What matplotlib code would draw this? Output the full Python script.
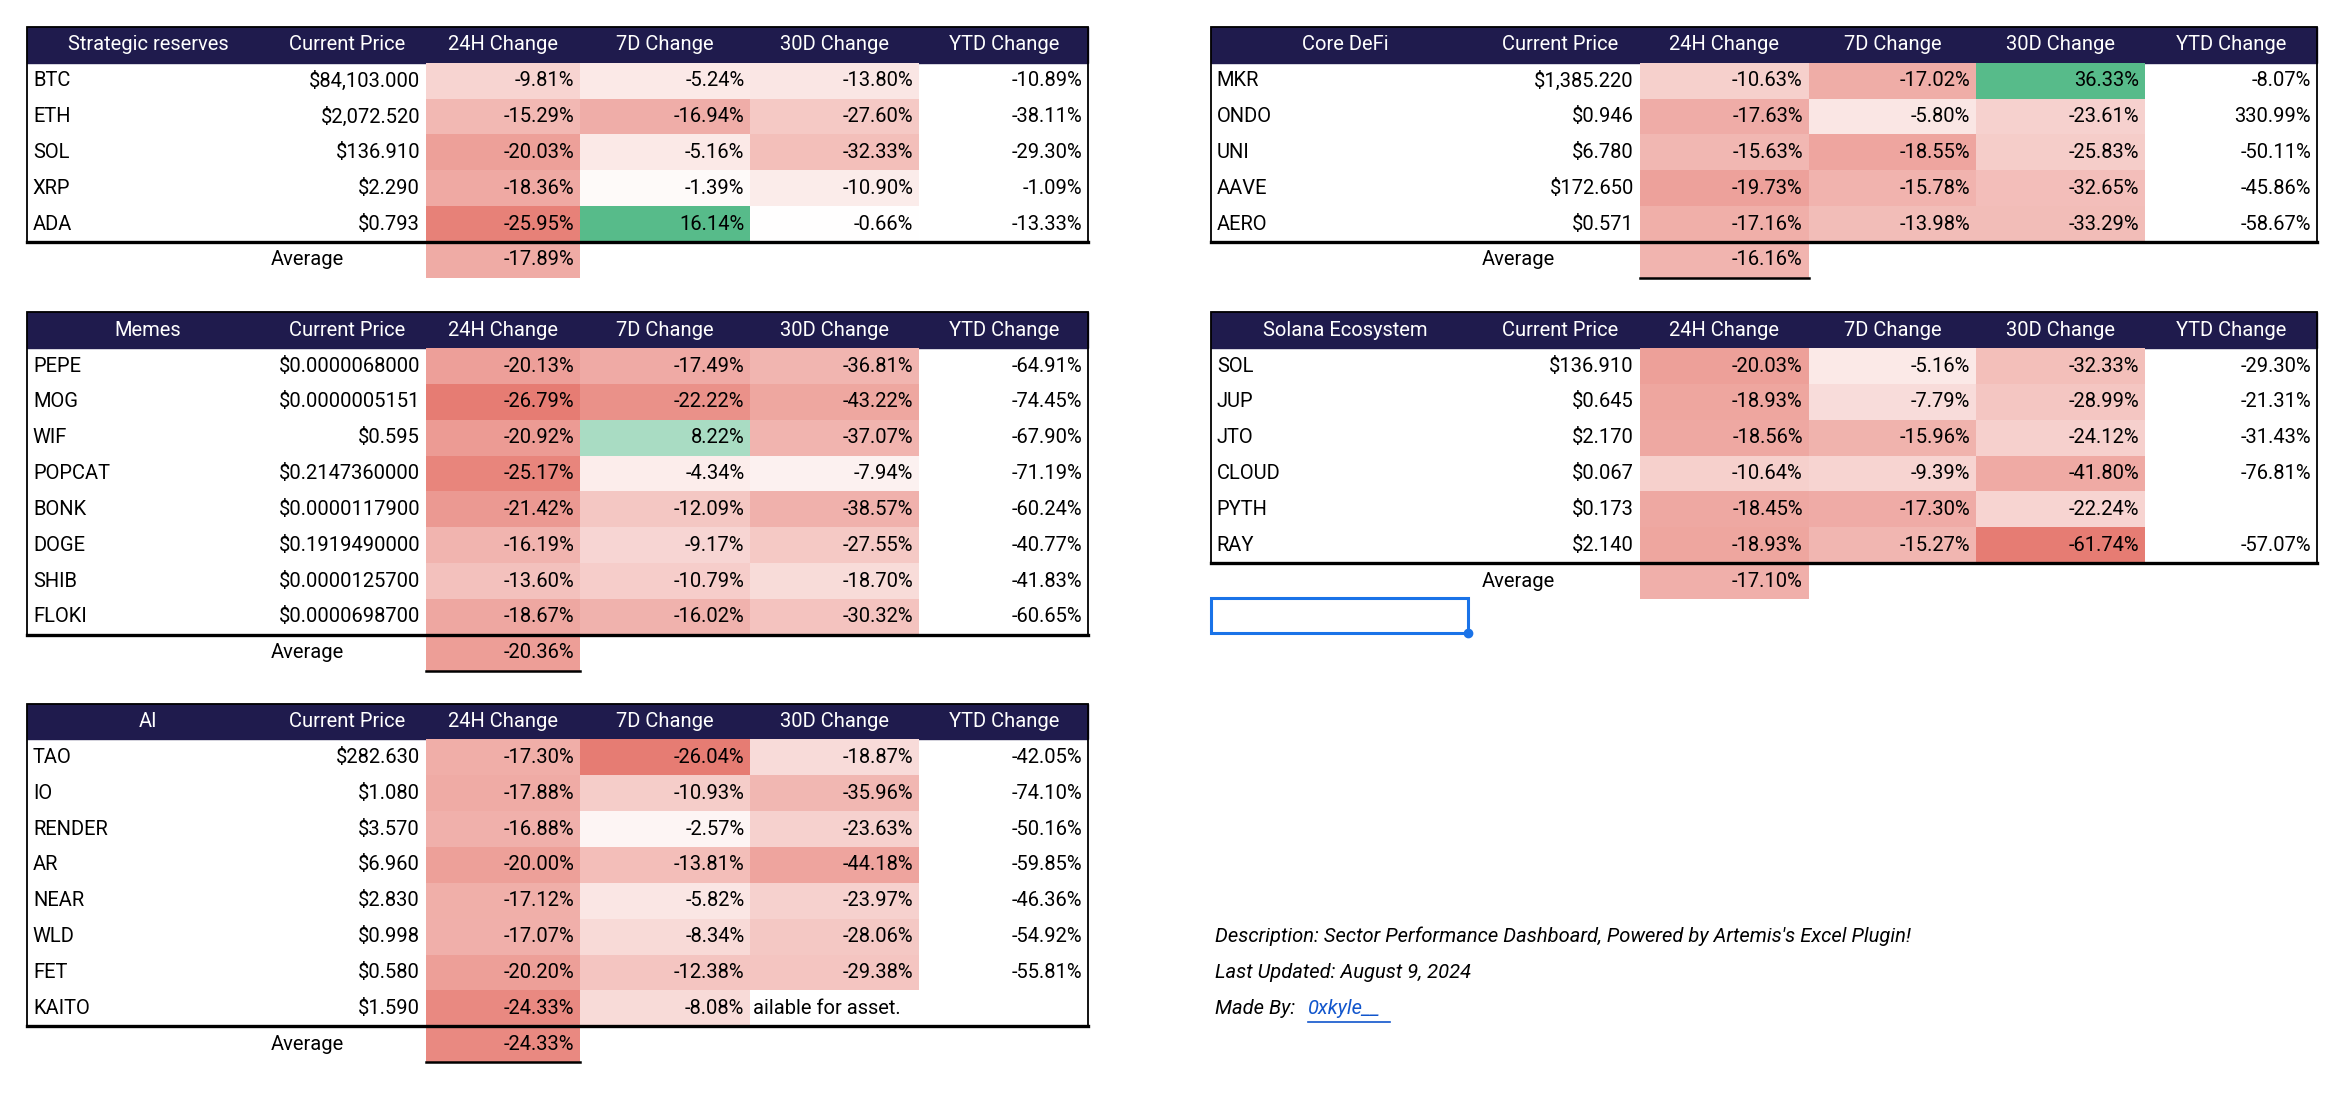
import matplotlib
matplotlib.use("Agg")
import matplotlib.pyplot as plt
from matplotlib.patches import Rectangle
import numpy as np

plt.rcParams['font.family'] = ['Roboto', 'DejaVu Sans']

columns = ["Current Price", "24H Change", "7D Change", "30D Change", "YTD Change"]

t1_title = "Strategic reserves"
t1_names = ["BTC", "ETH", "SOL", "XRP", "ADA"]
t1_price = ["$84,103.000", "$2,072.520", "$136.910", "$2.290", "$0.793"]
t1_24h = [-9.81, -15.29, -20.03, -18.36, -25.95]
t1_7d = [-5.24, -16.94, -5.16, -1.39, 16.14]
t1_30d = [-13.80, -27.60, -32.33, -10.90, -0.66]
t1_ytd = [-10.89, -38.11, -29.30, -1.09, -13.33]
t1_avg = -17.89

t2_title = "Memes"
t2_names = ["PEPE", "MOG", "WIF", "POPCAT", "BONK", "DOGE", "SHIB", "FLOKI"]
t2_price = ["$0.0000068000", "$0.0000005151", "$0.595", "$0.2147360000", "$0.0000117900",
            "$0.1919490000", "$0.0000125700", "$0.0000698700"]
t2_24h = [-20.13, -26.79, -20.92, -25.17, -21.42, -16.19, -13.60, -18.67]
t2_7d = [-17.49, -22.22, 8.22, -4.34, -12.09, -9.17, -10.79, -16.02]
t2_30d = [-36.81, -43.22, -37.07, -7.94, -38.57, -27.55, -18.70, -30.32]
t2_ytd = [-64.91, -74.45, -67.90, -71.19, -60.24, -40.77, -41.83, -60.65]
t2_avg = -20.36

t3_title = "AI"
t3_names = ["TAO", "IO", "RENDER", "AR", "NEAR", "WLD", "FET", "KAITO"]
t3_price = ["$282.630", "$1.080", "$3.570", "$6.960", "$2.830", "$0.998", "$0.580", "$1.590"]
t3_24h = [-17.30, -17.88, -16.88, -20.00, -17.12, -17.07, -20.20, -24.33]
t3_7d = [-26.04, -10.93, -2.57, -13.81, -5.82, -8.34, -12.38, -8.08]
t3_30d = [-18.87, -35.96, -23.63, -44.18, -23.97, -28.06, -29.38, None]
t3_ytd = [-42.05, -74.10, -50.16, -59.85, -46.36, -54.92, -55.81, None]
t3_avg = -24.33

t4_title = "Core DeFi"
t4_names = ["MKR", "ONDO", "UNI", "AAVE", "AERO"]
t4_price = ["$1,385.220", "$0.946", "$6.780", "$172.650", "$0.571"]
t4_24h = [-10.63, -17.63, -15.63, -19.73, -17.16]
t4_7d = [-17.02, -5.80, -18.55, -15.78, -13.98]
t4_30d = [36.33, -23.61, -25.83, -32.65, -33.29]
t4_ytd = [-8.07, 330.99, -50.11, -45.86, -58.67]
t4_avg = -16.16

t5_title = "Solana Ecosystem"
t5_names = ["SOL", "JUP", "JTO", "CLOUD", "PYTH", "RAY"]
t5_price = ["$136.910", "$0.645", "$2.170", "$0.067", "$0.173", "$2.140"]
t5_24h = [-20.03, -18.93, -18.56, -10.64, -18.45, -18.93]
t5_7d = [-5.16, -7.79, -15.96, -9.39, -17.30, -15.27]
t5_30d = [-32.33, -28.99, -24.12, -41.80, -22.24, -61.74]
t5_ytd = [-29.30, -21.31, -31.43, -76.81, None, -57.07]
t5_avg = -17.10

RED = np.array([0xe6, 0x7c, 0x73]) / 255
GREEN = np.array([0x57, 0xbb, 0x8a]) / 255
WHITE = np.ones(3)
NAVY = "#1f1b4d"

tables = [(t1_24h, t1_7d, t1_30d), (t2_24h, t2_7d, t2_30d), (t3_24h, t3_7d, t3_30d),
          (t4_24h, t4_7d, t4_30d), (t5_24h, t5_7d, t5_30d)]
GMIN = [min(v for t in tables for v in t[k] if v is not None) for k in range(3)]
GMAX = [max(v for t in tables for v in t[k] if v is not None) for k in range(3)]

def cell_color(v, k):
    if v is None:
        return None
    if v >= 0:
        t = min(1.0, v / GMAX[k]) if GMAX[k] > 0 else 1.0
        return tuple(WHITE + (GREEN - WHITE) * t)
    t = min(1.0, v / GMIN[k]) ** 1.1
    return tuple(WHITE + (RED - WHITE) * t)

W, H = 1568, 735
fig = plt.figure(figsize=(23.44, 10.98), dpi=100)
ax = fig.add_axes([0, 0, 1, 1])
ax.set_xlim(0, W)
ax.set_ylim(H, 0)
ax.axis("off")

FS = 14.5
LEFT_EDGES = [18, 180, 285, 388, 502, 615, 728]
RIGHT_EDGES = [810, 990, 1097, 1210, 1322, 1435, 1550]

def draw_table(edges, top, rh, title, names, price, c24, c7, c30, ytd, avg, avg_line, note=None):
    x0, x1 = edges[0], edges[-1]
    ax.add_patch(Rectangle((x0, top), x1 - x0, rh, facecolor=NAVY, edgecolor=NAVY, zorder=1))
    heads = [title] + columns
    for i, h in enumerate(heads):
        ax.text((edges[i] + edges[i + 1]) / 2, top + rh / 2, h, color="white",
                ha="center", va="center", fontsize=FS, zorder=3)
    n = len(names)
    cols = [c24, c7, c30]
    for r in range(n):
        y = top + rh * (r + 1)
        cy = y + rh / 2
        ax.text(x0 + 4, cy, names[r], ha="left", va="center", fontsize=FS, zorder=3)
        ax.text(edges[2] - 4, cy, price[r], ha="right", va="center", fontsize=FS, zorder=3)
        for k, c in enumerate(cols):
            v = c[r]
            if v is None:
                continue
            ax.add_patch(Rectangle((edges[2 + k], y), edges[3 + k] - edges[2 + k], rh,
                                   facecolor=cell_color(v, k), edgecolor="none", zorder=1))
            ax.text(edges[3 + k] - 4, cy, f"{v:.2f}%", ha="right", va="center", fontsize=FS, zorder=3)
        if ytd[r] is not None:
            ax.text(edges[6] - 4, cy, f"{ytd[r]:.2f}%", ha="right", va="center", fontsize=FS, zorder=3)
        if note is not None and note[0] == r:
            ax.text(edges[4] + 2, cy, note[1], ha="left", va="center", fontsize=FS, zorder=3)
    bottom = top + rh * (n + 1)
    ax.add_patch(Rectangle((x0, top), x1 - x0, bottom - top, facecolor="none",
                           edgecolor="black", lw=1.3, zorder=4))
    ax.plot([x0, x1], [bottom, bottom], color="black", lw=2.4, zorder=4)
    cy = bottom + rh / 2
    ax.text(edges[1] + 50, cy, "Average", ha="right", va="center", fontsize=FS, zorder=3)
    ax.add_patch(Rectangle((edges[2], bottom), edges[3] - edges[2], rh,
                           facecolor=cell_color(avg, 0), edgecolor="none", zorder=1))
    ax.text(edges[3] - 4, cy, f"{avg:.2f}%", ha="right", va="center", fontsize=FS, zorder=3)
    if avg_line:
        ax.plot([edges[2], edges[3]], [bottom + rh, bottom + rh], color="black", lw=1.8, zorder=4)

draw_table(LEFT_EDGES, 18, 24, t1_title, t1_names, t1_price, t1_24h, t1_7d, t1_30d, t1_ytd, t1_avg, False)
draw_table(LEFT_EDGES, 209, 24, t2_title, t2_names, t2_price, t2_24h, t2_7d, t2_30d, t2_ytd, t2_avg, True)
draw_table(LEFT_EDGES, 471, 24, t3_title, t3_names, t3_price, t3_24h, t3_7d, t3_30d, t3_ytd, t3_avg, True,
           note=(7, "ailable for asset."))
draw_table(RIGHT_EDGES, 18, 24, t4_title, t4_names, t4_price, t4_24h, t4_7d, t4_30d, t4_ytd, t4_avg, True)
draw_table(RIGHT_EDGES, 209, 24, t5_title, t5_names, t5_price, t5_24h, t5_7d, t5_30d, t5_ytd, t5_avg, False)

ax.add_patch(Rectangle((810, 400), 172, 24, facecolor="none", edgecolor="#1a73e8", lw=2.2, zorder=5))
ax.plot([982], [424], marker="o", color="#1a73e8", markersize=6, zorder=6)

ax.text(813, 627, "Description: Sector Performance Dashboard, Powered by Artemis's Excel Plugin!",
        ha="left", va="center", fontsize=FS, style="italic")
ax.text(813, 651, "Last Updated: August 9, 2024", ha="left", va="center", fontsize=FS, style="italic")
ax.text(813, 675, "Made By:", ha="left", va="center", fontsize=FS, style="italic")
ax.text(875, 675, "0xkyle__", ha="left", va="center", fontsize=FS, style="italic", color="#1155cc")
ax.plot([875, 930], [684, 684], color="#1155cc", lw=1.2)

fig.savefig("out.png", dpi=100, facecolor="white")
